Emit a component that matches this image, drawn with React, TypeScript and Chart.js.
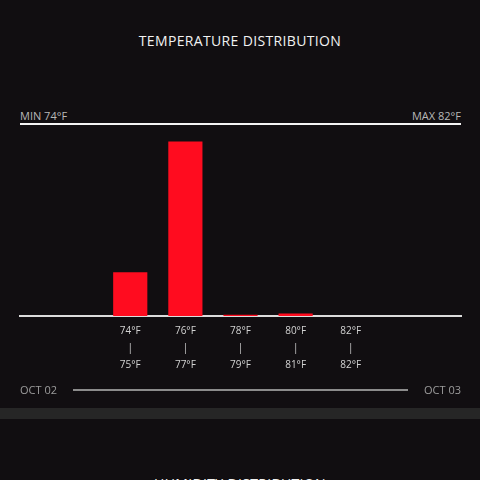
import React, { useEffect, useRef } from 'react';
import { Chart, registerables } from 'chart.js';

Chart.register(...registerables);

// temperature buckets (low / high end) and hour counts per bucket
const rangeLow = ['74°F', '76°F', '78°F', '80°F', '82°F'];
const rangeHigh = ['75°F', '77°F', '79°F', '81°F', '82°F'];
const counts = [5, 20, 0.15, 0.3, 0];

// empty slots either side of the buckets
const padBefore = ['', ''];
const padAfter = ['', ''];

const minLabel = 'MIN 74°F';
const maxLabel = 'MAX 82°F';
const dayStart = 'OCT 02';
const dayEnd = 'OCT 03';

const FONT = '"Open Sans", "DejaVu Sans", sans-serif';

const TempChart: React.FC = () => {
  const canvasRef = useRef<HTMLCanvasElement | null>(null);
  const chartRef = useRef<Chart | null>(null);

  useEffect(() => {
    if (!canvasRef.current) return;
    const ctx = canvasRef.current.getContext('2d');
    if (!ctx) return;

    if (chartRef.current) {
      chartRef.current.destroy();
    }

    const labels = [
      ...padBefore,
      ...rangeLow.map((lo, i) => [lo, '|', rangeHigh[i]]),
      ...padAfter,
    ];
    const values = [
      ...padBefore.map(() => null),
      ...counts,
      ...padAfter.map(() => null),
    ];

    chartRef.current = new Chart(ctx, {
      type: 'bar',
      data: {
        labels,
        datasets: [
          {
            data: values,
            backgroundColor: '#ff0c1f',
            borderWidth: 0,
            categoryPercentage: 1,
            barPercentage: 0.62,
          },
        ],
      },
      options: {
        animation: false,
        responsive: true,
        maintainAspectRatio: false,
        layout: { padding: { left: 20, right: 19, top: 14, bottom: 2 } },
        plugins: {
          legend: { display: false },
          tooltip: { enabled: false },
        },
        scales: {
          x: {
            offset: false,
            grid: { display: false, drawTicks: false },
            border: { display: true, color: '#dcdcdc', width: 2 },
            ticks: {
              color: '#d2d2d2',
              padding: 7,
              maxRotation: 0,
              autoSkip: false,
              font: { family: FONT, size: 10, lineHeight: 1.7 },
            },
          },
          y: {
            display: false,
            min: 0,
            max: 22,
          },
        },
      },
    });

    return () => {
      if (chartRef.current) {
        chartRef.current.destroy();
        chartRef.current = null;
      }
    };
  }, []);

  return (
    <div style={{ position: 'absolute', left: 0, top: 110, width: 480, height: 273 }}>
      <canvas ref={canvasRef} />
    </div>
  );
};

const text = (size: number, color: string): React.CSSProperties => ({
  position: 'absolute',
  fontFamily: FONT,
  fontSize: size,
  lineHeight: `${size}px`,
  color,
  whiteSpace: 'nowrap',
});

const App: React.FC = () => {
  return (
    <div
      style={{
        position: 'fixed',
        left: 0,
        top: 0,
        width: 480,
        height: 480,
        overflow: 'hidden',
        background: '#110e11',
      }}
    >
      <div
        style={{
          ...text(14, '#f2f2f2'),
          top: 34,
          left: 0,
          width: 480,
          textAlign: 'center',
          letterSpacing: '0.35px',
        }}
      >
        TEMPERATURE DISTRIBUTION
      </div>

      <div style={{ ...text(11, '#b8b8b8'), top: 110, left: 20 }}>{minLabel}</div>
      <div style={{ ...text(11, '#b8b8b8'), top: 110, right: 19 }}>{maxLabel}</div>
      <div style={{ position: 'absolute', left: 20, top: 123, width: 441, height: 2, background: '#f4f4f4' }} />

      <TempChart />

      <div style={{ ...text(11, '#9c9c9c'), top: 384, left: 20 }}>{dayStart}</div>
      <div style={{ position: 'absolute', left: 73, top: 389, width: 335, height: 1.5, background: '#8c8c8c' }} />
      <div style={{ ...text(11, '#9c9c9c'), top: 384, right: 19 }}>{dayEnd}</div>

      <div style={{ position: 'absolute', left: 0, top: 408, width: 480, height: 11, background: '#262626' }} />

      <div
        style={{
          ...text(14, '#f2f2f2'),
          top: 477,
          left: 0,
          width: 480,
          textAlign: 'center',
          letterSpacing: '0.35px',
        }}
      >
        HUMIDITY DISTRIBUTION
      </div>
    </div>
  );
};

export default App;
